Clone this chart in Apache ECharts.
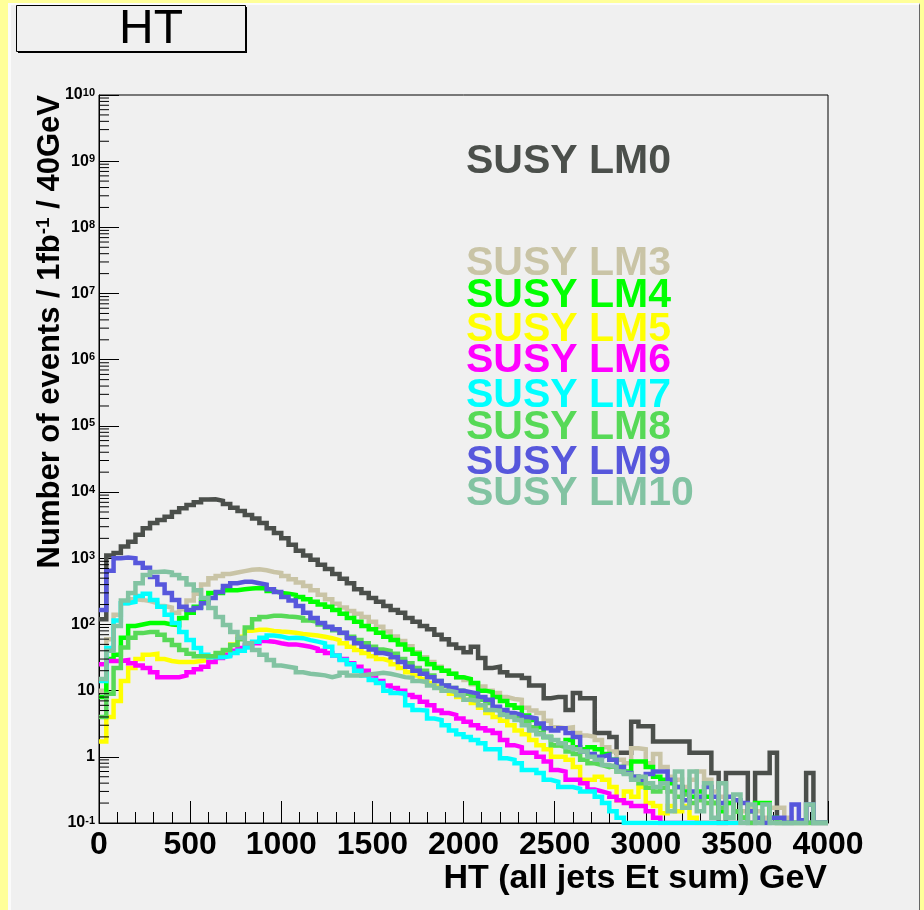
<!DOCTYPE html>
<html>
<head>
<meta charset="utf-8">
<title>HT</title>
<script src="https://cdn.jsdelivr.net/npm/echarts@6/dist/echarts.min.js"></script>
<style>
  html, body { margin: 0; padding: 0; background: #ffff99; overflow: hidden; }
  #panel {
    position: absolute; left: 8px; top: 3px; width: 908px; height: 910px;
    background: #f0f0f0;
    border-left: 3px solid #fbfbfb; border-top: 2px solid #fbfbfb; border-right: 1px solid #666;
  }
  #main { position: absolute; left: 0; top: 0; width: 924px; height: 910px; }
</style>
</head>
<body>
<div id="panel"></div>
<div id="main"></div>
<script>
// HT distribution, 40 GeV bins from 0 to 4000 GeV, events / 1fb-1
var binWidth = 40;
var xMin = 0;
var xMax = 4000;
var yMinValue = 0.1;          // bottom of the log axis (empty bins sit here)
var yLogMin = -1;
var yLogMax = 10;

var seriesNames = ['SUSY LM0', 'SUSY LM3', 'SUSY LM4', 'SUSY LM5', 'SUSY LM6',
                   'SUSY LM7', 'SUSY LM8', 'SUSY LM9', 'SUSY LM10'];

var lm0 = [120, 1100, 1200, 1500, 1770, 2260, 2850, 3400, 3800, 4250,
           5000, 5700, 6400, 7000, 7700, 7800, 7400, 6600, 5800, 5200,
           4500, 4000, 3400, 2850, 2400, 2000, 1600, 1300, 1100, 950,
           800, 690, 580, 490, 420, 340, 300, 250, 220, 190,
           166, 150, 125, 110, 95, 85, 70, 60, 50, 44,
           38, 46, 31, 22, 23, 19, 17, 17, 15.5, 12,
           12, 7.7, 8, 8, 5.1, 9.2, 7.7, 7.7, 2.3, 2.3,
           2.0, 1.15, 1.15, 3.4, 2.9, 2.9, 1.7, 1.7, 1.7, 1.7,
           1.7, 1.15, 1.15, 1.15, 0.57, 0, 0.57, 0.57, 0.57, 0,
           0.57, 0.57, 1.15, 0, 0, 0, 0, 0.57, 0, 0];

var lm3 = [10, 60, 140, 210, 240, 235, 225, 210, 190, 180,
           150, 170, 230, 290, 400, 500, 540, 580, 610, 640,
           670, 680, 660, 620, 600, 540, 480, 430, 380, 330,
           280, 240, 205, 180, 160, 145, 130, 110, 92, 78,
           66, 56, 47, 38, 32, 27, 23, 20, 18, 16,
           14.5, 12.5, 11.5, 10, 9.2, 8, 7.5, 7.3, 5.5, 5,
           4.6, 3.5, 2.8, 2.7, 2.8, 2.3, 2.1, 2.0, 1.8, 1.4,
           1.2, 0.9, 0.8, 1.35, 1.3, 0.8, 1.1, 0.7, 0.5, 0.45,
           0.35, 0.45, 0.6, 0.45, 0.3, 0.25, 0.2, 0.15, 0.15, 0.17,
           0.15, 0.12, 0.17, 0.17, 0.12, 0, 0, 0, 0, 0];

var lm4 = [8, 30, 35, 63, 95, 100, 105, 105, 105, 100,
           98, 125, 150, 185, 235, 300, 300, 330, 330, 340,
           350, 355, 350, 320, 300, 290, 280, 260, 240, 220,
           200, 185, 165, 145, 125, 110, 95, 85, 75, 65,
           58, 50, 42, 36, 30, 25, 22, 20, 18, 16,
           15, 13, 10, 9.5, 8, 7, 6, 5.5, 4.2, 3.6,
           2.8, 2.0, 1.5, 1.6, 1.8, 1.4, 1.3, 1.4, 1.3, 1.1,
           0.9, 0.7, 0.6, 0.85, 0.85, 0.7, 0.5, 0.45, 0.4, 0.35,
           0.3, 0.25, 0.3, 0.25, 0.2, 0.15, 0.2, 0.15, 0.12, 0.15,
           0.2, 0.2, 0.12, 0, 0, 0, 0, 0, 0, 0];

var lm5 = [1.7, 4, 7, 14, 22, 30, 35, 36, 30, 28,
           27, 27, 27, 28, 29, 32, 35, 40, 50, 65,
           80, 83, 83, 80, 78, 77, 75, 72, 70, 68,
           65, 62, 58, 52, 46, 41, 37, 33, 30, 28,
           25, 22, 19, 17, 15, 13, 11.5, 10, 9, 8,
           7.3, 6.5, 5.5, 4.6, 4, 3.5, 3, 2.5, 2.2, 1.8,
           1.5, 1.3, 1.0, 1.0, 0.9, 0.7, 0.45, 0.45, 0.5, 0.45,
           0.35, 0.22, 0.3, 0.25, 0.35, 0.2, 0.18, 0.14, 0.18, 0.15,
           0.18, 0.12, 0, 0, 0, 0, 0, 0, 0, 0,
           0, 0, 0, 0, 0, 0, 0, 0, 0, 0];

var lm6 = [25, 28, 28, 29, 26, 24, 22, 19, 16, 16,
           16, 17, 19, 21, 23, 27, 31, 35, 40, 44,
           48, 52, 56, 55, 52, 50, 50, 48, 46, 43,
           40, 37, 34, 30, 26, 23, 20, 17, 14, 12,
           11, 10, 8.6, 8, 6.8, 6, 5, 4.6, 4.3, 3.8,
           3.4, 3.0, 2.7, 2.5, 2.3, 1.8, 1.5, 1.4, 1.15, 1.15,
           1.0, 0.85, 0.63, 0.6, 0.45, 0.45, 0.4, 0.32, 0.3, 0.28,
           0.25, 0.22, 0.2, 0.18, 0.18, 0.15, 0.12, 0, 0, 0,
           0, 0, 0, 0, 0, 0, 0, 0, 0, 0,
           0, 0, 0, 0, 0, 0, 0, 0, 0, 0];

var lm7 = [14, 44, 115, 210, 220, 270, 290, 235, 185, 140,
           105, 77, 58, 44, 35, 32, 32, 33, 37, 40,
           45, 55, 63, 68, 66, 62, 63, 62, 58, 55,
           52, 46, 34, 29, 25, 20, 17, 14.5, 13, 10,
           9.2, 9, 6, 5.1, 5, 3.8, 3.6, 3.0, 2.5, 2.2,
           2.0, 1.8, 1.6, 1.3, 1.3, 0.95, 0.9, 0.8, 0.63, 0.63,
           0.57, 0.45, 0.42, 0.35, 0.35, 0.33, 0.3, 0.3, 0.25, 0.2,
           0.15, 0.12, 0, 0, 0, 0, 0, 0, 0, 0,
           0, 0, 0, 0, 0, 0, 0, 0, 0, 0,
           0, 0, 0, 0, 0, 0, 0, 0, 0, 0];

var lm8 = [4, 9, 22, 45, 63, 74, 77, 77, 70, 58,
           49, 41, 36, 33, 33, 33, 37, 41, 49, 60,
           90, 120, 130, 135, 135, 132, 130, 125, 115, 110,
           100, 90, 82, 74, 65, 58, 52, 46, 42, 40,
           36, 30, 26, 22, 20, 17, 14, 12, 11, 10,
           9, 8, 7.3, 6.5, 5.5, 5, 4.5, 4, 3.5, 2.8,
           2.3, 2, 1.5, 1.4, 1.2, 1.1, 0.9, 0.8, 0.75, 0.7,
           0.75, 0.6, 0.57, 0.5, 0.4, 0.34, 0.3, 0.34, 0.3, 0.25,
           0.27, 0.2, 0.22, 0.2, 0.2, 0.17, 0.12, 0.15, 0.12, 0,
           0, 0, 0, 0, 0, 0, 0, 0, 0, 0];

var lm9 = [165, 650, 1000, 1030, 1000, 850, 720, 520, 400, 300,
           235, 185, 165, 177, 210, 250, 310, 380, 420, 440,
           440, 420, 400, 340, 310, 260, 230, 190, 150, 125,
           105, 92, 85, 75, 62, 52, 46, 42, 37, 35,
           32, 27, 23, 20, 18, 16, 14, 12, 11, 10,
           9.5, 9, 8, 7.3, 5.7, 5.1, 4.6, 4.3, 4, 3.8,
           3.2, 2.7, 2.5, 2.7, 2.3, 2.0, 1.2, 1.1, 1.0, 1.07,
           0.9, 0.7, 0.57, 0.5, 0.45, 0.55, 0.6, 0.6, 0.45, 0.35,
           0.22, 0.3, 0.25, 0.35, 0.25, 0.2, 0.25, 0.22, 0.2, 0.15,
           0.12, 0, 0.12, 0.12, 0, 0.19, 0.11, 0.19, 0, 0];

var lm10 = [15, 40, 95, 230, 300, 420, 560, 620, 630, 610,
            560, 500, 400, 330, 250, 177, 130, 98, 77, 63,
            52, 41, 35, 29, 24, 23, 22, 19, 18, 17.5,
            17, 16, 17, 18.6, 17, 17, 17.5, 18, 18.6, 18,
            17, 16, 15.6, 14, 13.5, 12, 11, 10, 9.5, 8.5,
            7.3, 7, 6, 5.1, 5, 4.3, 4, 3.6, 3, 2.5,
            2.2, 2.0, 1.8, 1.6, 1.4, 1.3, 1.2, 1.0, 0.9, 0.75,
            0.7, 0.6, 0.55, 0.45, 0.5, 0.4, 0.35, 0.4, 0.15, 0.6,
            0.17, 0.6, 0.15, 0.4, 0.12, 0.4, 0.12, 0.27, 0, 0.19,
            0, 0.19, 0, 0, 0, 0, 0, 0.19, 0, 0];

var seriesValues = [lm0, lm3, lm4, lm5, lm6, lm7, lm8, lm9, lm10];

var seriesColors = ['#4b4f4b', '#c9c4a6', '#00ff00', '#ffff00', '#ff00ff',
                    '#00ffff', '#57d957', '#5757dc', '#82c3a2'];

// legend text rows (centre of the text line, px)
var labelRows = [162, 264, 296, 330, 361, 396, 428, 463, 494];

var yTickLabels = ['10{s|-1}', '1', '10', '10{s|2}', '10{s|3}', '10{s|4}', '10{s|5}',
                   '10{s|6}', '10{s|7}', '10{s|8}', '10{s|9}', '10{s|10}'];
var yMinorMultipliers = [2, 3, 4, 5, 6, 7, 8, 9];
var yDecades = [-1, 0, 1, 2, 3, 4, 5, 6, 7, 8, 9];

var fontFamily = '"Liberation Sans", Arial, Helvetica, sans-serif';

function histPoints(vals) {
    var pts = vals.map(function (v, i) {
        return [xMin + i * binWidth, Math.log10(Math.max(v, yMinValue))];
    });
    pts.push([xMin + vals.length * binWidth, pts[pts.length - 1][1]]);
    return pts;
}

var minorTickData = [];
yDecades.forEach(function (d) {
    yMinorMultipliers.forEach(function (m) {
        minorTickData.push([xMin, d + Math.log10(m)]);
    });
});

var series = seriesValues.map(function (vals, k) {
    return {
        name: seriesNames[k],
        type: 'line',
        step: 'end',
        data: histPoints(vals),
        symbol: 'none',
        showSymbol: false,
        clip: true,
        silent: true,
        lineStyle: { color: seriesColors[k], width: 4.5, join: 'miter', cap: 'butt' },
        itemStyle: { color: seriesColors[k] }
    };
});

// log-spaced minor ticks on the y axis
series.push({
    type: 'custom',
    silent: true,
    z: 10,
    data: minorTickData,
    renderItem: function (params, api) {
        var p = api.coord([api.value(0), api.value(1)]);
        return {
            type: 'line',
            shape: { x1: p[0], y1: p[1], x2: p[0] + 10, y2: p[1] },
            style: { stroke: '#000', lineWidth: 1 }
        };
    }
});

var graphics = [
    // title box with its shadow
    { type: 'rect', left: 18, top: 7, shape: { width: 229, height: 46 }, style: { fill: '#000' }, z: 1 },
    { type: 'rect', left: 16, top: 5, shape: { width: 229, height: 46 },
      style: { fill: '#f0f0f0', stroke: '#000', lineWidth: 1 }, z: 2 },
    { type: 'text', x: 151, y: 30, z: 3,
      style: { text: 'HT', font: '48px ' + fontFamily, fill: '#000', align: 'center', verticalAlign: 'middle' } },
    // axis titles
    { type: 'text', x: 827, y: 879,
      style: { text: 'HT (all jets Et sum) GeV', font: 'bold 34px ' + fontFamily, fill: '#000',
               align: 'right', verticalAlign: 'middle' } },
    { type: 'text', x: 50, y: 95, rotation: Math.PI / 2,
      style: { text: 'Number of events / 1fb{sup|-1} / 40GeV', font: 'bold 31px ' + fontFamily, fill: '#000',
               align: 'right', verticalAlign: 'middle',
               rich: { sup: { fontSize: 19, fontWeight: 'bold', fontFamily: fontFamily, verticalAlign: 'top',
                              lineHeight: 19, fill: '#000' } } } }
];

seriesNames.forEach(function (name, k) {
    graphics.push({
        type: 'text', x: 466, y: labelRows[k],
        style: { text: name, font: 'bold 41px ' + fontFamily, fill: seriesColors[k],
                 align: 'left', verticalAlign: 'middle' }
    });
});

var chart = echarts.init(document.getElementById('main'), null, { renderer: 'canvas' });
chart.setOption({
    animation: false,
    backgroundColor: 'transparent',
    grid: {
        left: 99, top: 95, width: 729, height: 728,
        show: true, borderColor: '#000', borderWidth: 1, backgroundColor: 'transparent',
        containLabel: false, outerBoundsMode: 'none'
    },
    xAxis: {
        type: 'value',
        min: xMin,
        max: xMax,
        interval: 500,
        axisLine: { show: true, onZero: false, lineStyle: { color: '#000', width: 1 } },
        axisTick: { show: true, inside: true, length: 22, lineStyle: { color: '#000' } },
        minorTick: { show: true, splitNumber: 5, length: 11, lineStyle: { color: '#000' } },
        splitLine: { show: false },
        axisLabel: {
            fontSize: 32, fontWeight: 'bold', fontFamily: fontFamily, color: '#000', margin: 6,
            formatter: function (v) { return String(v); }
        }
    },
    yAxis: {
        type: 'value',
        min: yLogMin,
        max: yLogMax,
        interval: 1,
        axisLine: { show: true, onZero: false, lineStyle: { color: '#000', width: 1 } },
        axisTick: { show: true, inside: true, length: 20, lineStyle: { color: '#000' } },
        splitLine: { show: false },
        axisLabel: {
            margin: 4,
            fontSize: 16, fontWeight: 'bold', fontFamily: fontFamily, color: '#000',
            formatter: function (v) { return yTickLabels[Math.round(v) - yLogMin]; },
            rich: { s: { fontSize: 11, fontWeight: 'bold', fontFamily: fontFamily, color: '#000',
                         verticalAlign: 'top', lineHeight: 11 } }
        }
    },
    graphic: graphics,
    series: series
});
</script>
</body>
</html>
